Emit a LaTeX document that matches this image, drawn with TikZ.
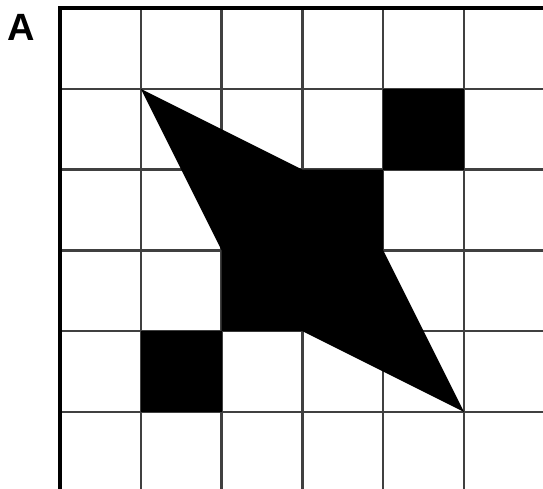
\documentclass[tikz,border=0pt]{standalone}
\usepackage{fontspec}
\setmainfont{Liberation Sans}
\usepackage{tikz}
\begin{document}
\begin{tikzpicture}[
  x=1pt, y=-1pt,
  gridline/.style={draw=black!75, line width=2.5pt},
  edgeline/.style={draw=black, line width=3.2pt},
  blackcell/.style={fill=black}
]
\useasboundingbox (0,0) rectangle (543,489);
\node[font=\fontsize{38}{38}\selectfont\bfseries, inner sep=0pt] (panel) at (21,27) {A};
\begin{scope}
\clip (0,0) rectangle (543,489);
\begin{scope}[shift={(60,8)}, x=80.8pt, y=-80.8pt]
% grid
\foreach \i in {1,...,6}
  \draw[gridline] (\i,0) -- (\i,6.2);
\foreach \j in {1,...,6}
  \draw[gridline] (0,\j) -- (6.2,\j);
\draw[edgeline] (0,6.2) -- (0,0) -- (6.2,0);
% filled cells
\fill[blackcell] (4,1) rectangle (5,2);
\fill[blackcell] (1,4) rectangle (2,5);
% star shape
\fill[blackcell] (1,1) -- (3,2) -- (4,2) -- (4,3) -- (5,5) -- (3,4) -- (2,4) -- (2,3) -- cycle;
\end{scope}
\end{scope}
\end{tikzpicture}
\end{document}
